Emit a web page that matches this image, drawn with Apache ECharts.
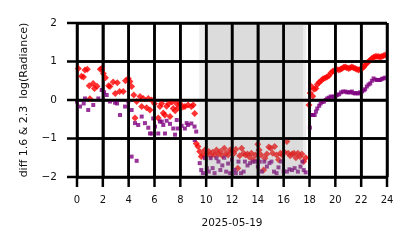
<!DOCTYPE html>
<html>
<head>
<meta charset="utf-8">
<script src="https://cdn.jsdelivr.net/npm/echarts@6/dist/echarts.min.js"></script>
<style>html,body{margin:0;padding:0;background:#fff}#c{width:414px;height:248px}</style>
</head>
<body>
<div id="c"></div>
<script>
// x tick labels / y tick labels
const xTicks = [0, 2, 4, 6, 8, 10, 12, 14, 16, 18, 20, 22, 24];
const yTicks = [-2, -1, 0, 1, 2];
const dateLabel = '2025-05-19';
const yLabel = 'diff 1.6 & 2.3  log(Radiance)';
// shaded spans (hours)
const spans = [[9.47, 17.75], [9.9, 17.5]];

// red (diamonds): [hour, value]
const redSeries = [
[0.1,0.82],[0.35,0.62],[0.5,0.6],[0.62,0.78],[0.8,0.8],[0.95,0.37],[1.0,0.03],[1.25,0.43],[1.35,0.3],[1.55,0.36],
[1.8,0.8],[1.91,0.82],[2.04,0.69],[2.2,0.58],[2.45,0.37],[2.55,0.35],[2.8,0.47],[2.96,0.17],[3.12,0.45],[3.3,0.22],
[3.58,0.22],[3.75,0.5],[3.97,0.56],[4.1,0.48],[4.23,0.35],[4.4,0.13],[4.49,-0.47],[4.62,-0.04],[4.88,0.09],[5.01,-0.17],
[5.13,0.04],[5.39,-0.2],[5.52,0.04],[5.65,-0.26],[5.78,0.0],[6.0,-0.1],[6.29,-0.47],[6.42,-0.17],[6.55,-0.09],[6.68,-0.34],
[6.8,-0.39],[6.94,-0.16],[7.1,-0.1],[7.2,-0.43],[7.35,-0.05],[7.45,-0.22],[7.6,-0.28],[7.72,-0.1],[7.85,-0.2],[7.97,-0.09],
[8.2,-0.18],[8.36,-0.17],[8.6,-0.13],[8.85,-0.17],[9.0,-0.13],[9.11,-0.35],[9.23,-1.13],[9.37,-1.21],[9.5,-1.34],[9.62,-1.47],
[9.75,-1.43],[9.9,-1.3],[10.05,-1.38],[10.2,-1.34],[10.35,-1.45],[10.5,-1.36],[10.65,-1.43],[10.8,-1.3],[10.95,-1.4],[11.1,-1.34],
[11.25,-1.45],[11.4,-1.25],[11.55,-1.38],[11.7,-1.43],[11.85,-1.3],[12.0,-1.34],[12.15,-1.38],[12.3,-1.28],[12.45,-1.77],[12.6,-1.45],
[12.75,-1.25],[12.9,-1.38],[13.05,-1.43],[13.2,-1.4],[13.35,-1.48],[13.5,-1.38],[13.65,-1.55],[13.8,-1.43],[14.0,-1.15],[14.1,-1.3],
[14.25,-1.43],[14.45,-1.82],[14.55,-1.51],[14.7,-1.4],[14.85,-1.22],[15.0,-1.25],[15.15,-1.38],[15.3,-1.21],[15.45,-1.43],[15.6,-1.55],
[15.75,-1.38],[15.9,-1.43],[16.05,-1.35],[16.25,-1.08],[16.35,-1.38],[16.5,-1.45],[16.65,-1.4],[16.8,-1.38],[16.95,-1.5],[17.1,-1.38],
[17.25,-1.47],[17.4,-1.4],[17.55,-1.6],[17.7,-1.5],
[17.96,-0.13],[18.05,0.18],[18.15,0.35],[18.25,0.1],[18.35,0.28],[18.5,0.3],[18.6,0.4],[18.75,0.46],[18.9,0.5],[19.05,0.55],
[19.2,0.57],[19.35,0.6],[19.5,0.63],[19.65,0.7],[19.8,0.75],[19.95,0.77],[20.1,0.8],[20.26,0.78],[20.4,0.8],[20.51,0.82],
[20.65,0.85],[20.77,0.86],[20.9,0.84],[21.03,0.82],[21.15,0.84],[21.28,0.86],[21.4,0.84],[21.54,0.82],[21.67,0.8],[21.8,0.78],
[21.93,0.8],[22.06,0.82],[22.2,0.86],[22.31,0.91],[22.45,0.96],[22.58,1.0],[22.7,1.04],[22.83,1.08],[22.96,1.11],[23.09,1.13],
[23.22,1.13],[23.35,1.13],[23.48,1.12],[23.6,1.13],[23.73,1.15],[23.86,1.17]
];

// purple (squares): [hour, value]
const purpleSeries = [
[0.0,-0.04],[0.23,-0.17],[0.52,-0.09],[0.62,0.04],[0.87,-0.26],[1.26,-0.13],[1.65,0.04],[1.91,0.26],[2.1,0.2],[2.3,0.13],
[2.55,-0.04],[2.94,-0.07],[3.1,-0.09],[3.33,-0.39],[3.72,-0.17],[3.97,-0.04],[4.23,-0.26],[4.23,-1.47],[4.49,-0.6],[4.62,-1.58],
[4.74,-0.65],[5.01,-0.43],[5.26,-0.6],[5.52,-0.72],[5.65,-0.87],[5.78,-0.87],[5.9,-0.48],[6.04,-0.69],[6.29,-0.87],[6.42,-0.56],
[6.56,-0.56],[6.68,-0.65],[6.81,-0.87],[6.94,-0.54],[7.2,-0.62],[7.45,-0.74],[7.59,-0.9],[7.72,-0.52],[7.79,-0.74],[8.1,-0.67],
[8.35,-0.74],[8.49,-0.6],[8.6,-0.65],[8.85,-0.61],[9.1,-0.69],[9.11,-1.04],[9.23,-0.82],[9.5,-1.64],[9.62,-1.82],[9.75,-1.9],
[9.9,-1.51],[10.05,-1.77],[10.2,-1.86],[10.35,-1.51],[10.5,-1.77],[10.65,-1.9],[10.8,-1.51],[10.95,-1.6],[11.1,-1.82],[11.25,-1.7],
[11.4,-1.5],[11.55,-1.86],[11.7,-1.65],[11.85,-1.9],[12.0,-1.55],[12.2,-1.82],[12.3,-1.9],[12.5,-1.6],[12.7,-1.9],[12.9,-1.86],
[13.0,-1.6],[13.2,-1.7],[13.4,-1.64],[13.6,-1.6],[13.8,-1.6],[14.0,-1.73],[14.15,-1.6],[14.3,-1.86],[14.5,-1.6],[14.7,-1.73],
[14.9,-1.64],[15.05,-1.6],[15.25,-1.86],[15.45,-1.9],[15.6,-1.75],[15.8,-1.6],[16.0,-1.85],[16.25,-1.86],[16.45,-1.8],[16.65,-1.82],
[16.85,-1.77],[17.1,-1.86],[17.3,-1.73],[17.45,-1.6],[17.55,-1.82],[17.7,-1.88],
[18.03,-0.72],[18.13,-0.39],[18.27,-0.39],[18.4,-0.39],[18.5,-0.3],[18.6,-0.22],[18.75,-0.15],[18.86,-0.09],[19.0,-0.05],[19.12,-0.04],
[19.25,0.0],[19.37,0.04],[19.5,0.06],[19.64,0.09],[19.77,0.08],[19.89,0.09],[20.02,0.1],[20.15,0.13],[20.3,0.15],[20.45,0.2],
[20.6,0.22],[20.77,0.22],[20.9,0.2],[21.03,0.2],[21.15,0.2],[21.28,0.22],[21.4,0.18],[21.54,0.17],[21.67,0.18],[21.8,0.17],
[21.93,0.2],[22.06,0.22],[22.2,0.25],[22.31,0.28],[22.44,0.35],[22.57,0.4],[22.7,0.43],[22.83,0.5],[22.96,0.56],[23.1,0.53],
[23.22,0.52],[23.35,0.52],[23.48,0.52],[23.6,0.55],[23.73,0.56],[23.86,0.58]
];

const xMin = xTicks[0], xMax = xTicks[xTicks.length - 1];
const yMin = yTicks[0], yMax = yTicks[yTicks.length - 1];
const TICK_LEN = 10, LINE_W = 2.5;
function fmt(v) { return String(v).replace('-', '\u2212'); }

// shaded spans: filled line series from the top of the axis down to its start
const spanSeries = spans.map(function (s) {
  return {
    type: 'line', data: [[s[0], yMax], [s[1], yMax]], symbol: 'none', silent: true, z: 3,
    lineStyle: {width: 0, color: 'rgba(128,128,128,0)'},
    areaStyle: {origin: 'start', color: 'rgba(128,128,128,0.15)', opacity: 1}
  };
});

const chart = echarts.init(document.getElementById('c'));
chart.setOption({
  animation: false,
  grid: {left: 77, right: 27, top: 23, bottom: 71},
  xAxis: {
    type: 'value', min: xMin, max: xMax, interval: 2,
    splitLine: {show: true, lineStyle: {color: '#000', width: LINE_W}},
    axisLabel: {margin: 18, fontSize: 10, color: '#111', fontFamily: 'DejaVu Sans', formatter: fmt}
  },
  yAxis: {
    type: 'value', min: yMin, max: yMax, interval: 1,
    splitLine: {show: true, lineStyle: {color: '#000', width: LINE_W}},
    axisLabel: {margin: 20, fontSize: 10.5, color: '#111', fontFamily: 'DejaVu Sans', formatter: fmt}
  },
  series: [
    {
      type: 'scatter', data: redSeries, symbol: 'diamond', symbolSize: 7, z: 2,
      itemStyle: {color: '#ff0000'}
    },
    {
      type: 'scatter', data: purpleSeries, symbol: 'rect', symbolSize: 4, z: 2,
      itemStyle: {color: '#800080'}
    }
  ].concat(spanSeries)
});

// grid lines and outward ticks, placed through the chart's own scales, drawn on top
function px(x, y) { return chart.convertToPixel({gridIndex: 0}, [x, y]); }
const els = [];
xTicks.forEach(function (t) {
  const a = px(t, yMax), b = px(t, yMin);
  els.push({type: 'line', silent: true, z: 100,
    shape: {x1: a[0], y1: a[1], x2: b[0], y2: b[1] + TICK_LEN},
    style: {stroke: '#000', lineWidth: LINE_W}});
});
yTicks.forEach(function (v) {
  const a = px(xMin, v), b = px(xMax, v);
  els.push({type: 'line', silent: true, z: 100,
    shape: {x1: a[0] - TICK_LEN, y1: a[1], x2: b[0], y2: b[1]},
    style: {stroke: '#000', lineWidth: LINE_W}});
});
const mid = px((xMin + xMax) / 2, (yMin + yMax) / 2);
els.push({type: 'text', x: mid[0], y: 223, silent: true, z: 100,
  style: {text: dateLabel, font: '10.5px "DejaVu Sans"', fill: '#111', align: 'center', verticalAlign: 'middle'}});
els.push({type: 'text', x: 24, y: mid[1], rotation: Math.PI / 2, silent: true, z: 100,
  style: {text: yLabel, font: '11px "DejaVu Sans"', fill: '#111', align: 'center', verticalAlign: 'middle'}});
chart.setOption({graphic: els});
</script>
</body>
</html>
